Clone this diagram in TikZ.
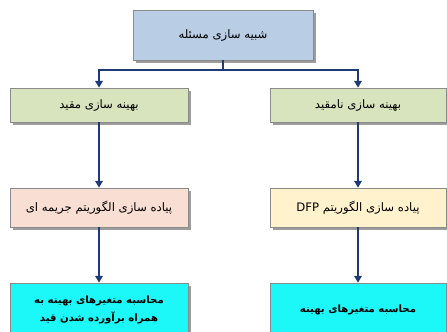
\documentclass[tikz,border=0pt]{standalone}
\usepackage{fontspec}
\usepackage{xcolor}
\usetikzlibrary{arrows.meta, shadows}
\TeXXeTstate=1
\newfontfamily\farsi[Script=Arabic]{DejaVu Sans}
\definecolor{biruabu}{HTML}{B9CDE5}
\definecolor{hijaumuda}{HTML}{D7E4BD}
\definecolor{persik}{HTML}{F9DFD3}
\definecolor{krem}{HTML}{FFF2CC}
\definecolor{sian}{HTML}{1CF8F8}
\definecolor{garis}{HTML}{8A8A8A}
\definecolor{panahbiru}{HTML}{1F3A78}

\begin{document}
\begin{tikzpicture}[
    x=0.025cm, y=-0.025cm,
    font=\farsi\fontsize{8.3}{10}\selectfont,
    kotak/.style={draw=garis, line width=0.5pt, align=center,
                  minimum width=4.45cm, minimum height=0.85cm,
                  drop shadow={shadow xshift=0.7mm, shadow yshift=-0.7mm,
                               fill=black!55, opacity=0.7}},
    atas/.style={kotak, fill=biruabu, minimum width=4.5cm, minimum height=1.25cm},
    jenis/.style={kotak, fill=hijaumuda},
    algo/.style={kotak, minimum height=0.975cm},
    hasil/.style={kotak, fill=sian, minimum height=1.55cm, text depth=2.6mm,
                  font=\farsi\bfseries\fontsize{7.2}{13.2}\selectfont},
    panah/.style={-{Triangle[length=1.7mm, width=1.9mm]}, line width=1pt, draw=panahbiru},
    garisbiru/.style={line width=1pt, draw=panahbiru}
  ]
    \useasboundingbox (0,0) rectangle (447,331);
    \clip (0,0) rectangle (447,331);
    \node[atas] (masalah) at (223,35) {\beginR شبیه سازی مسئله\endR};
    \coordinate (cabang) at (223,70);
    \node[jenis] (muqayyad) at (99,105) {\beginR بهینه سازی مقید\endR};
    \node[jenis, minimum width=4.4cm] (namuqayyad) at (358,105)
      {\beginR بهینه سازی نامقید\endR};
    \node[algo, fill=persik] (jarimeh) at (99,207.5)
      {\beginR پیاده سازی الگوریتم جریمه ای\endR};
    \node[algo, fill=krem, minimum width=4.4cm] (dfp) at (358,207.5)
      {\beginR پیاده سازی الگوریتم \beginL DFP\endL\endR};
    \node[hasil] (qeyd) at (99,314)
      {\beginR محاسبه متغیرهای بهینه به\endR\\
       \beginR همراه برآورده شدن قید\endR};
    \node[hasil, minimum width=4.4cm] (motaghayer) at (358,314)
      {\beginR محاسبه متغیرهای بهینه\endR};
    \draw[garisbiru] (masalah) -- (cabang);
    \draw[panah] (cabang) -| (muqayyad);
    \draw[panah] (cabang) -| (namuqayyad);
    \draw[panah] (muqayyad) -- (jarimeh);
    \draw[panah] (namuqayyad) -- (dfp);
    \draw[panah] (jarimeh) -- (qeyd);
    \draw[panah] (dfp) -- (motaghayer);
  \end{tikzpicture}
\end{document}
